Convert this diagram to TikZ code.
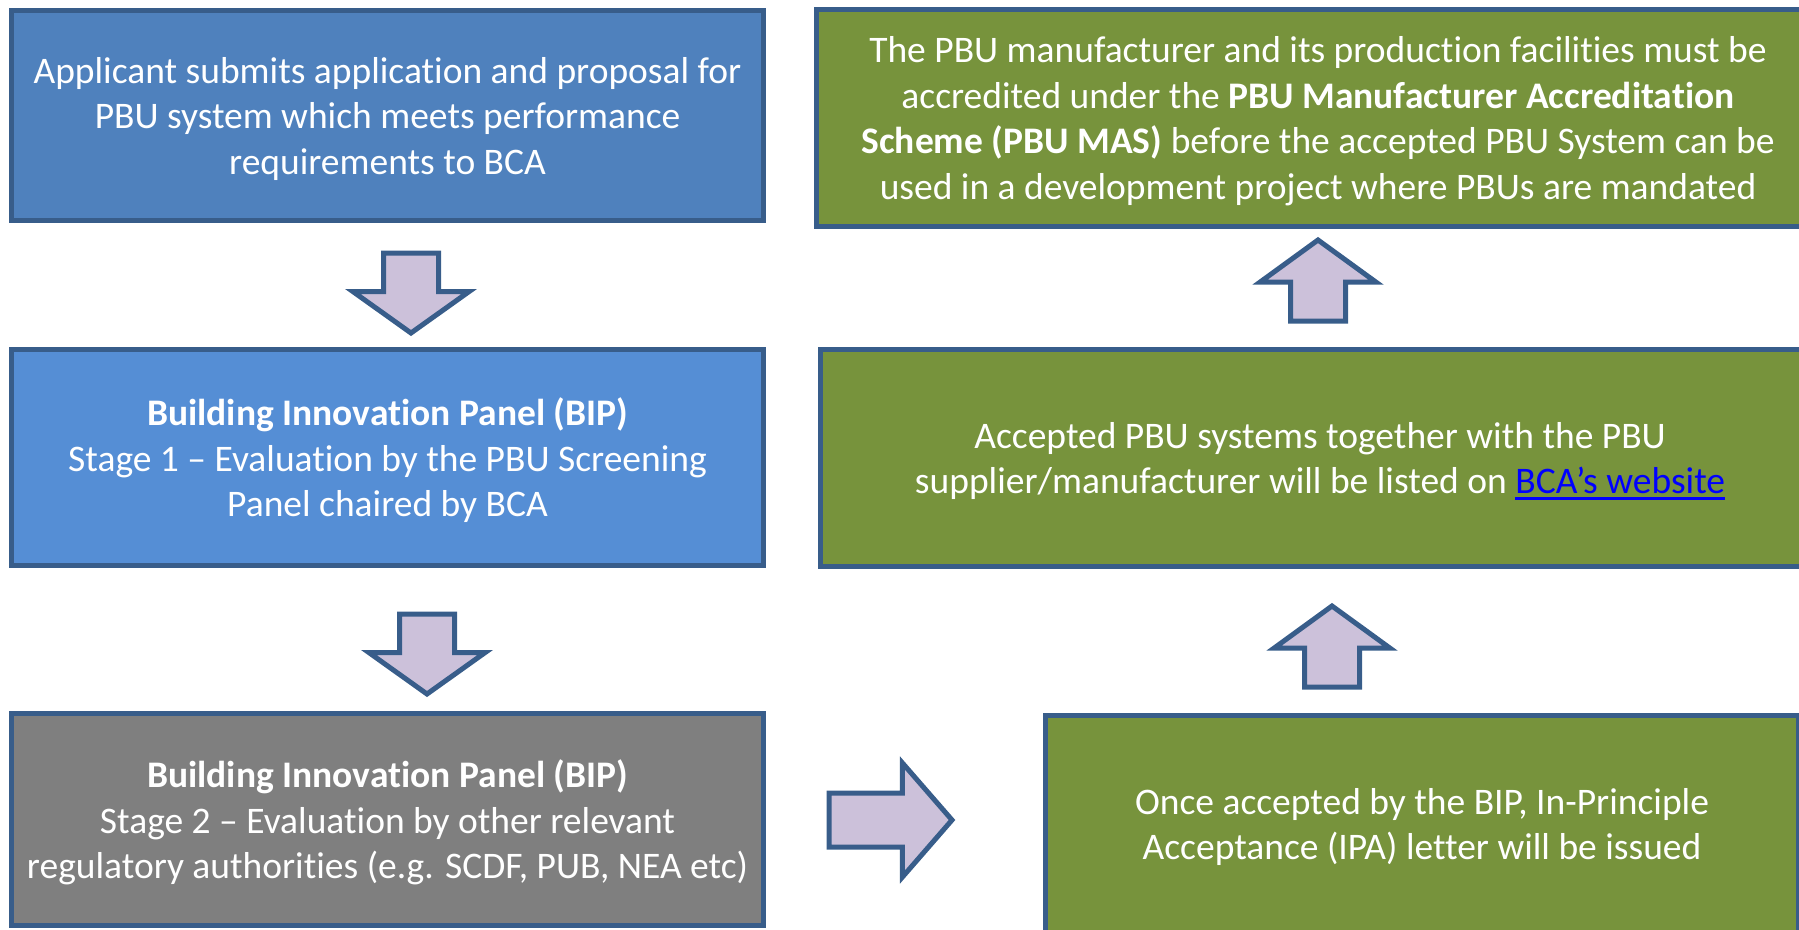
\documentclass[tikz,border=0pt]{standalone}
\usepackage{fontspec}
\setmainfont{Carlito}[Ligatures=NoCommon]
\usepackage{xcolor}
\usepackage{tikz}
\usetikzlibrary{shapes.arrows}

\definecolor{boxblue}{HTML}{4F81BD}
\definecolor{boxlight}{HTML}{558ED5}
\definecolor{boxgray}{HTML}{7F7F7F}
\definecolor{boxgreen}{HTML}{77933C}
\definecolor{edgeblue}{HTML}{385D8A}
\definecolor{arrowfill}{HTML}{CCC1DA}
\definecolor{linkblue}{HTML}{0000FF}
\newcommand{\weblink}[1]{\textcolor{linkblue}{\setbox0\hbox{#1}\rlap{\rule[-6pt]{\wd0}{2.5pt}}\box0}}

\begin{document}
\begin{tikzpicture}[
    x=1pt, y=-1pt,
    panel/.style={rectangle, draw=edgeblue, line width=5pt, text=white, align=center,
                  inner sep=0pt, outer sep=0pt, text depth=0pt,
                  font=\fontsize{37.5}{45.5}\selectfont},
    flowarrow/.style={single arrow, draw=edgeblue, fill=arrowfill, line width=5pt,
                  inner xsep=0pt, inner ysep=25pt, minimum width=0pt, outer sep=0pt,
                  single arrow head extend=30.5pt, anchor=tip}
]
\clip (0,0) rectangle (1799,929);
% left column
\node[panel, fill=boxblue, minimum width=752pt, minimum height=210pt] (apply) at (387.5,115.5)
    {Applicant submits application and proposal for\\PBU system which meets performance\\requirements to BCA};
\node[panel, fill=boxlight, minimum width=752pt, minimum height=216pt] (stage1) at (387.5,457.5)
    {\textbf{Building Innovation Panel (BIP)}\\Stage 1 – Evaluation by the PBU Screening\\Panel chaired by BCA};
\node[panel, fill=boxgray, minimum width=752pt, minimum height=212pt] (stage2) at (387.5,819.5)
    {\textbf{Building Innovation Panel (BIP)}\\Stage 2 – Evaluation by other relevant\\regulatory authorities (e.g. SCDF, PUB, NEA etc)};
% right column
\node[panel, fill=boxgreen, minimum width=1003pt, minimum height=217pt] (mas) at (1318,118)
    {The PBU manufacturer and its production facilities must be\\accredited under the \textbf{PBU Manufacturer Accreditation}\\\textbf{Scheme (PBU MAS)} before the accepted PBU System can be\\used in a development project where PBUs are mandated};
\node[panel, fill=boxgreen, minimum width=999pt, minimum height=217pt] (listed) at (1320,458)
    {Accepted PBU systems together with the PBU\\supplier/manufacturer will be listed on \weblink{BCA’s website}};
\node[panel, fill=boxgreen, minimum width=753pt, minimum height=217pt] (ipa) at (1422,824)
    {Once accepted by the BIP, In-Principle\\Acceptance (IPA) letter will be issued};
% block arrows, placed by their tips
\node[flowarrow, single arrow tip angle=109, minimum height=80pt, rotate=-90] (down1) at (411,333) {};
\node[flowarrow, single arrow tip angle=109, minimum height=80pt, rotate=-90] (down2) at (427,694) {};
\node[flowarrow, single arrow tip angle=98, minimum height=123pt, inner ysep=24.5pt,
      single arrow head extend=30pt] (across) at (952,820) {};
\node[flowarrow, single arrow tip angle=108, minimum height=81pt, rotate=90] (up1) at (1318,240) {};
\node[flowarrow, single arrow tip angle=108, minimum height=81pt, rotate=90] (up2) at (1332,606) {};
\end{tikzpicture}
\end{document}
